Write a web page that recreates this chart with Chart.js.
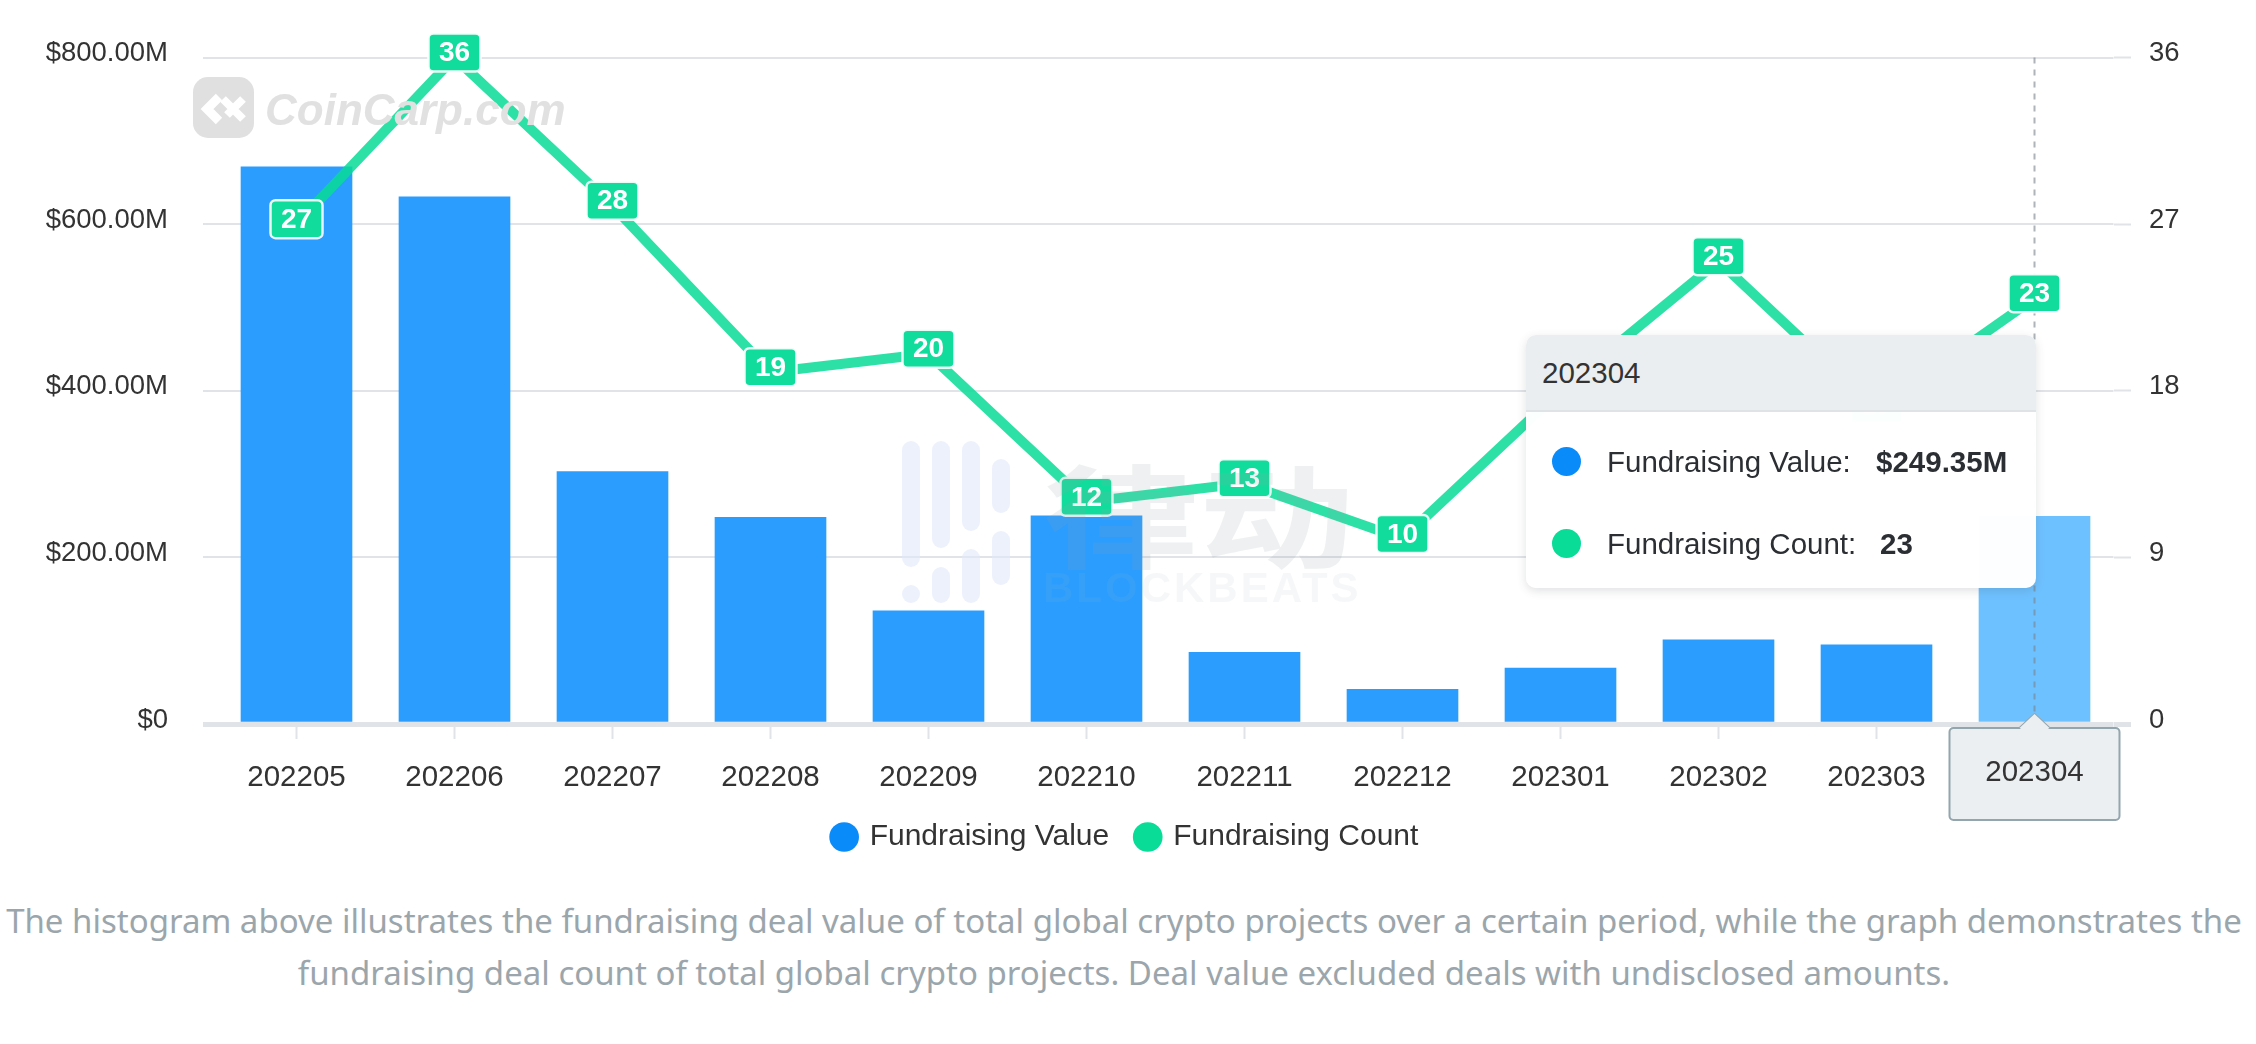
<!DOCTYPE html>
<html>
<head>
<meta charset="utf-8">
<title>Fundraising</title>
<script src="https://cdn.jsdelivr.net/npm/chart.js@4/dist/chart.umd.min.js"></script>
<style>
  html, body { margin: 0; padding: 0; background: #fff; width: 2256px; height: 1044px; overflow: hidden; font-family: "Liberation Sans", Arial, sans-serif; }
  #wrap { position: relative; width: 2256px; height: 1044px; }
  canvas { position: absolute; left: 0; top: 0; }
  .wm { position: absolute; white-space: nowrap; pointer-events: none; }
  .pill { position: absolute; width: 18px; border-radius: 9px; background: rgba(226,232,250,.62); }
  #tip { position: absolute; left: 1526px; top: 335px; width: 510px; height: 253px; box-sizing: border-box; border-radius: 10px; background: rgba(255,255,255,.985); box-shadow: 0 3px 10px rgba(60,70,80,.16); overflow: hidden; color: #2b2f33; font-size: 29.5px; }
  #tipHead { height: 77px; line-height: 76px; padding-left: 16px; background: #ebeef0; border-bottom: 2px solid #dfe3e6; color: #333; box-sizing: border-box; }
  .row { position: absolute; left: 0; white-space: nowrap; line-height: 34px; }
  .dot { position: absolute; left: 26px; top: 2px; width: 29px; height: 29px; border-radius: 50%; }
  .name { position: absolute; left: 81px; top: 0; }
  .val { position: absolute; top: 0; font-weight: bold; }
  #note { position: absolute; left: -4px; width: 2256px; top: 895px; text-align: center; color: #9ba6ac; font-family: "Noto Sans", sans-serif; font-size: 33px; line-height: 52px; white-space: nowrap; }
</style>
</head>
<body>
<div id="wrap">
  <canvas id="chart" width="2256" height="862"></canvas>

  <svg class="wm" style="left:193px;top:77px" width="62" height="62" viewBox="0 0 62 62">
    <rect width="61" height="61" rx="15" fill="#e0e0e0"/>
    <path d="M26 20 L14 32 L26 44" fill="none" stroke="#fff" stroke-width="9"/>
    <path d="M30 22 L50 42 M50 22 L34 38" fill="none" stroke="#fff" stroke-width="8"/>
  </svg>
  <div class="wm" style="left:265px;top:85px;font:italic bold 44px 'Liberation Sans';color:#e1e1e1;">CoinCarp.com</div>

  <div id="pills"></div>
  <div class="wm" style="left:1043px;top:430px;font:bold 112px 'Noto Sans CJK SC';color:rgba(150,160,170,.16);transform:scaleX(1.39);transform-origin:left top;">律动</div>
  <div class="wm" style="left:1043px;top:564px;font:bold 42px 'Liberation Sans';letter-spacing:3px;color:rgba(170,180,190,.1);">BLOCKBEATS</div>

  <div id="tip">
    <div id="tipHead"></div>
    <div class="row" style="top:110px"><span class="dot" style="background:#0a8bfa"></span><span class="name" id="tipName1"></span><span class="val" id="tipVal1" style="left:350px"></span></div>
    <div class="row" style="top:192px"><span class="dot" style="background:#08dc97"></span><span class="name" id="tipName2"></span><span class="val" id="tipVal2" style="left:354px"></span></div>
  </div>

  <div id="note">
    <div>The histogram above illustrates the fundraising deal value of total global crypto projects over a certain period, while the graph demonstrates the</div>
    <div>fundraising deal count of total global crypto projects. Deal value excluded deals with undisclosed amounts.</div>
  </div>
</div>

<script>
const months = ['202205', '202206', '202207', '202208', '202209', '202210', '202211', '202212', '202301', '202302', '202303', '202304'];
// millions of USD
const dealValue = [669, 633, 303, 248, 136, 250, 86, 41.5, 67, 101, 95, 249.35];
const dealCount = [27, 36, 28, 19, 20, 12, 13, 10, 18, 25, 17, 23];
const valueName = 'Fundraising Value';
const countName = 'Fundraising Count';

const hoverIndex = 11;
const fontFamily = '"Liberation Sans", Arial, sans-serif';
const gridColor = '#e0e3e7';
const textColor = '#333';

// watermark pills
const pills = [[902, 441, 126], [902, 585, 18], [932, 441, 107], [932, 567, 36], [962, 441, 90], [962, 549, 54], [992, 459, 54], [992, 531, 54]];
pills.forEach(p => {
  const d = document.createElement('div');
  d.className = 'pill';
  d.style.left = p[0] + 'px';
  d.style.top = p[1] + 'px';
  d.style.height = p[2] + 'px';
  document.getElementById('pills').appendChild(d);
});

// count badges, hover line and the axis pointer label
const overlay = {
  id: 'overlay',
  afterDatasetsDraw(chart) {
    const ctx = chart.ctx;
    const xs = chart.scales.x;
    const px = xs.getPixelForValue(hoverIndex);

    ctx.save();
    ctx.strokeStyle = 'rgba(120,130,140,.6)';
    ctx.lineWidth = 2;
    ctx.setLineDash([6, 6]);
    ctx.beginPath();
    ctx.moveTo(px, chart.chartArea.top);
    ctx.lineTo(px, chart.chartArea.bottom);
    ctx.stroke();
    ctx.setLineDash([]);

    const meta = chart.getDatasetMeta(1);
    ctx.textAlign = 'center';
    ctx.textBaseline = 'middle';
    ctx.font = 'bold 28px ' + fontFamily;
    meta.data.forEach((pt, i) => {
      const w = 52, h = 38;
      const y = pt.y - 5;
      ctx.beginPath();
      ctx.roundRect(pt.x - w / 2, y - h / 2, w, h, 5);
      ctx.fillStyle = '#12dc9b';
      ctx.fill();
      ctx.strokeStyle = 'rgba(255,255,255,.9)';
      ctx.lineWidth = 2.5;
      ctx.stroke();
      ctx.fillStyle = '#fff';
      ctx.fillText(String(dealCount[i]), pt.x, y + 1);
    });

    // pointer label under the axis
    const top = 728, bottom = 820, left = px - 85, right = px + 85, tip = 714;
    ctx.beginPath();
    ctx.moveTo(left + 4, top);
    ctx.lineTo(px - 15, top);
    ctx.lineTo(px, tip);
    ctx.lineTo(px + 15, top);
    ctx.lineTo(right - 4, top);
    ctx.arcTo(right, top, right, top + 4, 4);
    ctx.lineTo(right, bottom - 4);
    ctx.arcTo(right, bottom, right - 4, bottom, 4);
    ctx.lineTo(left + 4, bottom);
    ctx.arcTo(left, bottom, left, bottom - 4, 4);
    ctx.lineTo(left, top + 4);
    ctx.arcTo(left, top, left + 4, top, 4);
    ctx.closePath();
    ctx.fillStyle = '#ebeff2';
    ctx.fill();
    ctx.strokeStyle = '#93a5ad';
    ctx.lineWidth = 2;
    ctx.stroke();
    // hide the outline along the arrow
    ctx.beginPath();
    ctx.moveTo(px - 15, top);
    ctx.lineTo(px, tip);
    ctx.lineTo(px + 15, top);
    ctx.closePath();
    ctx.fillStyle = '#ebeff2';
    ctx.fill();
    ctx.fillStyle = textColor;
    ctx.font = '29.5px ' + fontFamily;
    ctx.fillText(months[hoverIndex], px, 773);
    ctx.restore();
  }
};

new Chart(document.getElementById('chart'), {
  data: {
    labels: months,
    datasets: [
      {
        type: 'bar',
        label: valueName,
        data: dealValue,
        yAxisID: 'y',
        order: 2,
        barThickness: 111,
        backgroundColor: months.map((m, i) => i === hoverIndex ? '#6ec1ff' : '#2a9dff')
      },
      {
        type: 'line',
        label: countName,
        data: dealCount,
        yAxisID: 'y1',
        order: 1,
        borderColor: 'rgba(8,220,151,.85)',
        borderWidth: 10,
        tension: 0,
        pointRadius: 0,
        clip: false
      }
    ]
  },
  options: {
    responsive: false,
    animation: false,
    devicePixelRatio: 1,
    layout: { autoPadding: false, padding: { top: 57.6, left: 0, right: 4, bottom: 0 } },
    plugins: {
      tooltip: { enabled: false },
      legend: {
        position: 'bottom',
        labels: {
          usePointStyle: true,
          boxWidth: 21,
          boxHeight: 21,
          padding: 28,
          color: textColor,
          font: { family: fontFamily, size: 30 },
          generateLabels: () => [
            { text: valueName, fillStyle: '#0a8bfa', strokeStyle: '#0a8bfa', fontColor: textColor, pointStyle: 'circle', lineWidth: 0 },
            { text: countName, fillStyle: '#08dc97', strokeStyle: '#08dc97', fontColor: textColor, pointStyle: 'circle', lineWidth: 0 }
          ]
        }
      }
    },
    scales: {
      x: {
        offset: true,
        afterFit: s => { s.height = 70; },
        border: { display: false },
        grid: { offset: false, drawOnChartArea: false, tickLength: 15, tickColor: gridColor, tickWidth: 2 },
        ticks: { color: textColor, padding: 21.5, autoSkip: false, maxRotation: 0, font: { family: fontFamily, size: 29.5 } }
      },
      y: {
        position: 'left',
        min: 0,
        max: 800,
        afterFit: s => { s.width = 217.5; },
        border: { display: false },
        grid: {
          color: gridColor,
          tickColor: gridColor,
          tickLength: 14.5,
          lineWidth: c => c.tick.value === 0 ? 5 : 2,
          tickWidth: c => c.tick.value === 0 ? 5 : 2
        },
        ticks: {
          stepSize: 200,
          color: textColor,
          padding: 35,
          labelOffset: -4,
          font: { family: fontFamily, size: 27.5 },
          callback: v => v === 0 ? '$0' : '$' + v.toFixed(2) + 'M'
        }
      },
      y1: {
        position: 'right',
        min: 0,
        max: 36,
        // right padding is 4, so this keeps the plot's right edge where it was
        afterFit: s => { s.width = 138.5; },
        border: { display: false },
        grid: {
          drawOnChartArea: false,
          tickColor: gridColor,
          tickLength: 17.5,
          tickWidth: c => c.tick.value === 0 ? 5 : 2
        },
        ticks: {
          stepSize: 9,
          color: textColor,
          padding: 18,
          labelOffset: -4,
          font: { family: fontFamily, size: 27.5 }
        }
      }
    }
  },
  plugins: [overlay]
});

document.getElementById('tipHead').textContent = months[hoverIndex];
document.getElementById('tipName1').textContent = valueName + ':';
document.getElementById('tipVal1').textContent = '$' + dealValue[hoverIndex].toFixed(2) + 'M';
document.getElementById('tipName2').textContent = countName + ':';
document.getElementById('tipVal2').textContent = String(dealCount[hoverIndex]);
</script>
</body>
</html>
